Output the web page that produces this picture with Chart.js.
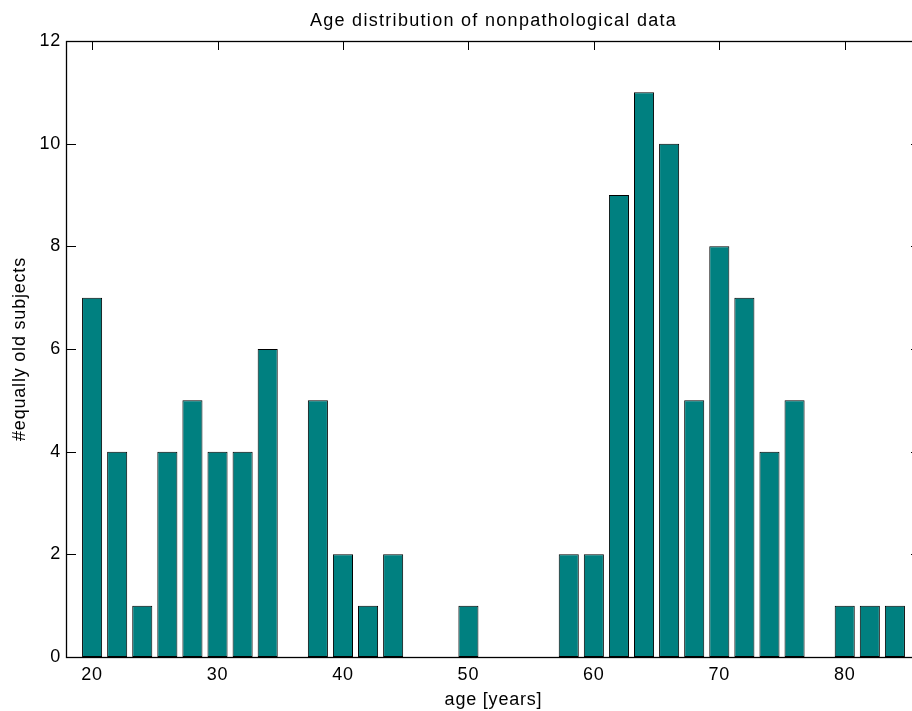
<!DOCTYPE html>
<html>
<head>
<meta charset="utf-8">
<script src="https://cdn.jsdelivr.net/npm/chart.js@4.4.1/dist/chart.umd.min.js"></script>
<style>
html,body{margin:0;padding:0;background:#fff;overflow:hidden;}
canvas{display:block;}
</style>
</head>
<body>
<canvas id="c" width="930" height="711"></canvas>
<script>
// ---- data ----
const ages   = [20,22,24,26,28,30,32,34,36,38,40,42,44,46,48,50,52,54,56,58,60,62,64,66,68,70,72,74,76,78,80,82,84];
const counts = [7,4,1,4,5,4,4,6,0,5,2,1,2,0,0,1,0,0,0,2,2,9,11,10,5,8,7,4,5,0,1,1,1];
const xTicks = [20,30,40,50,60,70,80];
const yTicks = [0,2,4,6,8,10,12];
const titleText = 'Age distribution of nonpathological data';
const xTitle = 'age [years]';
const yTitle = '#equally old subjects';

const FONT = '"Liberation Sans", Arial, Helvetica, sans-serif';
const FS = 18;
const TL = 9; // tick length

const boxPlugin = {
  id: 'boxPlugin',
  beforeInit(chart) { chart.ctx.letterSpacing = '0.8px'; },
  beforeLayout(chart) { chart.ctx.letterSpacing = '0.8px'; },
  beforeDraw(chart) { chart.ctx.letterSpacing = '0.8px'; },
  beforeDatasetsDraw(chart) {
    const ctx = chart.ctx, a = chart.chartArea;
    const xs = chart.scales.x, ys = chart.scales.y;
    ctx.save();
    ctx.strokeStyle = '#000';
    ctx.lineWidth = 1;
    ctx.beginPath();
    xTicks.forEach(v => {
      const px = Math.round(xs.getPixelForValue(v)) + 0.5;
      ctx.moveTo(px, a.bottom); ctx.lineTo(px, a.bottom - TL);
      ctx.moveTo(px, a.top); ctx.lineTo(px, a.top + TL);
    });
    yTicks.forEach(v => {
      const py = Math.round(ys.getPixelForValue(v)) + 0.5;
      ctx.moveTo(a.left, py); ctx.lineTo(a.left + TL, py);
      ctx.moveTo(a.right, py); ctx.lineTo(a.right - TL, py);
    });
    ctx.stroke();
    ctx.restore();
  },
  afterDatasetsDraw(chart) {
    const ctx = chart.ctx, a = chart.chartArea;
    ctx.save();
    ctx.strokeStyle = '#000';
    ctx.lineWidth = 1.3;
    ctx.strokeRect(Math.round(a.left) - 0.5, Math.round(a.top) + 0.5, Math.round(a.right - a.left), Math.round(a.bottom - a.top));
    // title centred over the axes
    ctx.letterSpacing = '1.3px';
    ctx.fillStyle = '#000';
    ctx.font = FS + 'px ' + FONT;
    ctx.textAlign = 'center';
    ctx.textBaseline = 'alphabetic';
    ctx.fillText(titleText, (a.left + a.right) / 2, 25.5);
    ctx.restore();
  }
};

new Chart(document.getElementById('c'), {
  type: 'bar',
  data: {
    datasets: [{
      data: ages.map((a, i) => ({x: a, y: counts[i]})),
      backgroundColor: '#008080',
      borderColor: '#000',
      borderWidth: 1,
      borderSkipped: false,
      barPercentage: 0.8,
      categoryPercentage: 1.0
    }]
  },
  options: {
    responsive: false,
    animation: false,
    devicePixelRatio: 1,
    layout: {padding: {left: 0, right: 10, top: 41, bottom: 0}},
    plugins: {
      legend: {display: false},
      tooltip: {enabled: false},
      title: {display: false}
    },
    scales: {
      x: {
        type: 'linear',
        offset: false,
        min: 18, max: 86,
        grid: {display: false, drawTicks: false, offset: false},
        border: {display: false},
        afterBuildTicks: s => { s.ticks = xTicks.map(v => ({value: v})); },
        afterFit: s => { s.height = 54; },
        ticks: {
          color: '#000',
          font: {family: FONT, size: FS},
          padding: 7,
          maxRotation: 0,
          autoSkip: false
        },
        title: {
          display: true, text: xTitle, color: '#000',
          font: {family: FONT, size: FS},
          padding: {top: 0, bottom: 0}
        }
      },
      y: {
        min: 0, max: 12,
        grid: {display: false, drawTicks: false},
        border: {display: false},
        afterBuildTicks: s => { s.ticks = yTicks.map(v => ({value: v})); },
        afterFit: s => { s.width = 67; },
        ticks: {
          color: '#000',
          font: {family: FONT, size: FS},
          padding: 6
        },
        title: {
          display: true, text: yTitle, color: '#000',
          font: {family: FONT, size: FS},
          padding: {top: 9, bottom: 0}
        }
      }
    }
  },
  plugins: [boxPlugin]
});
</script>
</body>
</html>
